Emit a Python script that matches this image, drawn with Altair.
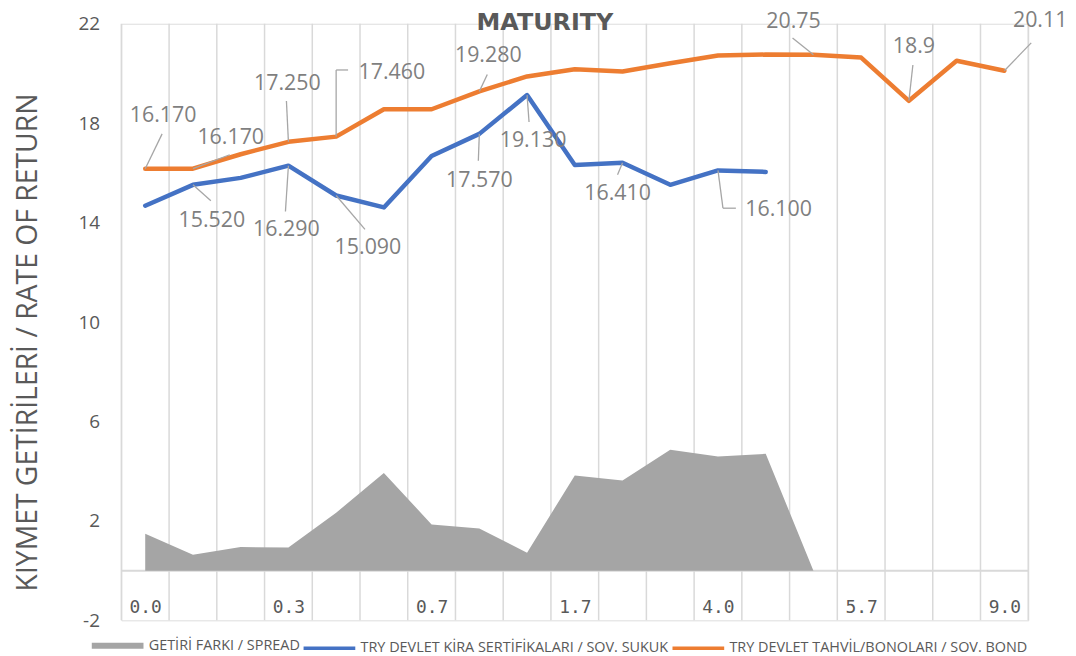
import altair as alt
import pandas as pd

# ---------------- data ----------------
categories = list(range(19))
tick_positions = [0, 3, 6, 9, 12, 15, 18]
tick_labels = ["0.0", "0.3", "0.7", "1.7", "4.0", "5.7", "9.0"]

spread = [1.48, 0.64, 0.95, 0.93, 2.33, 3.93, 1.86, 1.70, 0.72, 3.83, 3.63, 4.86, 4.59, 4.70, 0.0]
sukuk = [14.68, 15.52, 15.80, 16.29, 15.09, 14.61, 16.68, 17.57, 19.13, 16.32, 16.41, 15.52, 16.10, 16.04]
bond = [16.17, 16.17, 16.75, 17.25, 17.46, 18.56, 18.56, 19.28, 19.88, 20.17, 20.08, 20.41,
        20.72, 20.76, 20.75, 20.64, 18.90, 20.51, 20.11]

series_names = ["GETİRİ FARKI / SPREAD",
                "TRY DEVLET KİRA SERTİFİKALARI / SOV. SUKUK",
                "TRY DEVLET TAHVİL/BONOLARI / SOV. BOND"]
series_colors = ["#a5a5a5", "#4472c4", "#ed7d31"]

chart_title = "MATURITY"
y_title = "KIYMET GETİRİLERİ / RATE OF RETURN"

bond_label_idx = [0, 1, 3, 4, 7, 14, 16, 18]
bond_label_txt = ["16.170", "16.170", "17.250", "17.460", "19.280", "20.75", "18.9", "20.11"]
sukuk_label_idx = [1, 3, 4, 7, 8, 10, 12]
sukuk_label_txt = ["15.520", "16.290", "15.090", "17.570", "19.130", "16.410", "16.100"]

y_ticks = [-2, 2, 6, 10, 14, 18, 22]

# ---------------- callout layout (pixel offsets, styling only) ----------------
bond_callouts = {
    0: ((18, -53), [(0, 0, 17, -35)]),
    1: ((38, -31), [(0, 0, 37, -14)]),
    3: ((-1, -58), [(0, 0, -2, -41)]),
    4: ((56, -64), [(0, 0, 0, -67), (0, -67, 12, -67)]),
    7: ((9, -36), [(0, 0, 8, -17)]),
    14: ((-20, -33), [(0, 0, -21, -17)]),
    16: ((5, -54), [(0, 0, 4, -36)]),
    18: ((36, -50), [(0, 0, 27, -28)]),
}
sukuk_callouts = {
    1: ((19, 36), [(0, 0, 18, 16)]),
    3: ((-2, 65), [(0, 0, -3, 46)]),
    4: ((32, 53), [(0, 0, 29, 34)]),
    7: ((0, 47), [(0, 0, -1, 27)]),
    8: ((6, 46), [(0, 0, 2, 27)]),
    10: ((-5, 32), [(0, 0, -5, 12)]),
    12: ((61, 40), [(0, 0, 5, 38), (5, 38, 18, 38)]),
}

GREY = "#595959"
W, H = 912, 600

x_full = [""] * len(categories)
for p, t in zip(tick_positions, tick_labels):
    x_full[p] = t
label_expr = "[" + ",".join("'" + s + "'" for s in x_full) + "][datum.value]"

X = alt.X("i:Q",
          scale=alt.Scale(domain=[-0.5, len(categories) - 0.5], nice=False, zero=False),
          axis=alt.Axis(values=tick_positions, labelExpr=label_expr, grid=False, ticks=False,
                        domain=False, offset=-50, labelPadding=28, labelBaseline="top",
                        labelFont="DejaVu Sans Mono", labelFontSize=18, labelColor=GREY,
                        labelOverlap=False, labelFlush=False, title=None))
Y = alt.Y("v:Q",
          scale=alt.Scale(domain=[-2, 22], nice=False, zero=False),
          axis=alt.Axis(values=y_ticks, labelExpr="'' + datum.value", grid=False, ticks=False,
                        domain=False, labelFont="Open Sans", labelFontSize=19, labelColor=GREY,
                        labelPadding=22, title=y_title,
                        titleFont="Open Sans", titleFontSize=28.5, titleFontWeight="normal",
                        titleColor=GREY, titleX=-94, titleY=320, titleBaseline="middle",
                        titleAngle=270, titleAlign="center"))

# ---------------- frames ----------------
bounds = [c - 0.5 for c in categories] + [categories[-1] + 0.5]
grid_df = pd.DataFrame({"i": bounds})
grid = alt.Chart(grid_df).mark_rule(color="#d9d9d9", strokeWidth=1.5).encode(x=X)

zero_df = pd.DataFrame({"v": [0]})
zero = alt.Chart(zero_df).mark_rule(color="#d9d9d9", strokeWidth=2).encode(y=Y)

area_df = pd.DataFrame({"i": categories[:len(spread)], "v": spread})
area = alt.Chart(area_df).mark_area(color=series_colors[0], opacity=1).encode(x=X, y=Y)

lines_df = pd.concat([
    pd.DataFrame({"i": categories[:len(sukuk)], "v": sukuk, "s": series_names[1]}),
    pd.DataFrame({"i": categories[:len(bond)], "v": bond, "s": series_names[2]}),
])
legend = alt.Legend(
    orient="none", legendX=-29, legendY=618, direction="horizontal", title=None,
    symbolType="stroke", symbolSize=2704, symbolOffset=18,
    symbolStrokeWidth=alt.ExprRef("datum.value === '" + series_names[0] + "' ? 6 : 3.5"),
    padding=0, labelLimit=500,
    labelFont="Open Sans", labelFontSize=14.5, labelColor=GREY, labelOffset=24,
    columnPadding=-4,
)
lines = alt.Chart(lines_df).mark_line(strokeWidth=4.5, strokeCap="round", strokeJoin="round").encode(
    x=X, y=Y,
    color=alt.Color("s:N", scale=alt.Scale(domain=series_names, range=series_colors), legend=legend),
    detail="s:N",
)

layers = [grid, zero, area, lines]

text_layers = []
for vals, idxs, txts, callouts in [(bond, bond_label_idx, bond_label_txt, bond_callouts),
                                   (sukuk, sukuk_label_idx, sukuk_label_txt, sukuk_callouts)]:
    for k, t in zip(idxs, txts):
        (tdx, tdy), segs = callouts[k]
        d = pd.DataFrame({"i": [k], "v": [vals[k]], "t": [t]})
        for (a, b, c, e) in segs:
            layers.append(alt.Chart(d).mark_rule(
                color="#a6a6a6", strokeWidth=1.3,
                xOffset=a, yOffset=b, x2Offset=c, y2Offset=e).encode(
                x=X, y=Y, x2=alt.X2("i:Q"), y2=alt.Y2("v:Q")))
        text_layers.append(alt.Chart(d).mark_text(
            dx=tdx, dy=tdy, font="Open Sans", fontSize=21.5, color="#7f7f7f",
            align="center", baseline="middle").encode(x=X, y=Y, text="t:N"))

# chart title, drawn as a text mark just above the plot, left of centre like the original
title_layer = alt.Chart(pd.DataFrame({"t": [chart_title]})).mark_text(
    font="DejaVu Sans", fontSize=24, fontWeight="bold", color=GREY,
    align="center", baseline="alphabetic", dx=-30, dy=6,
).encode(x=alt.value(W / 2), y=alt.value(0), text="t:N")

chart = alt.layer(*layers, *text_layers, title_layer).properties(
    width=W, height=H,
    autosize=alt.AutoSizeParams(type="none"),
    padding={"left": 114, "top": 14, "right": 40, "bottom": 32},
).configure_view(stroke=None).configure(background="white")

chart.save("out.html", embed_options={"renderer": "svg", "actions": False})
